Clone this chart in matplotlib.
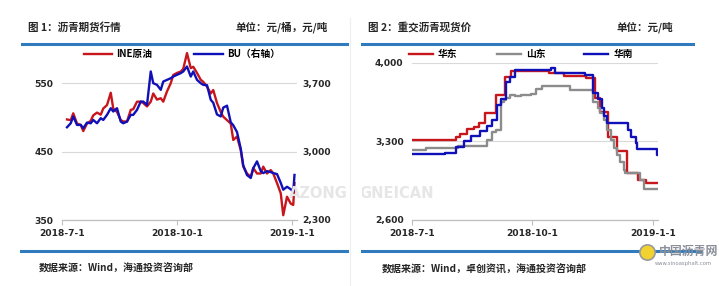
import matplotlib
matplotlib.use('Agg')
import matplotlib.pyplot as plt
from matplotlib.lines import Line2D
from matplotlib.transforms import Bbox
import pandas as pd

plt.rcParams['font.family'] = ['Noto Sans CJK SC', 'DejaVu Sans']

# 图1: 沥青期货行情
fut_dates = ['2018-07-05', '2018-07-08', '2018-07-10', '2018-07-13', '2018-07-16', '2018-07-18',
             '2018-07-21', '2018-07-24', '2018-07-26', '2018-07-29',
             '2018-08-01', '2018-08-03', '2018-08-06', '2018-08-09', '2018-08-11', '2018-08-14',
             '2018-08-17', '2018-08-19', '2018-08-22', '2018-08-25', '2018-08-27', '2018-08-30',
             '2018-09-02', '2018-09-04', '2018-09-07', '2018-09-10', '2018-09-12', '2018-09-15',
             '2018-09-18', '2018-09-20', '2018-09-23', '2018-09-26', '2018-09-28',
             '2018-10-01', '2018-10-04', '2018-10-06', '2018-10-09', '2018-10-12', '2018-10-14',
             '2018-10-17', '2018-10-20', '2018-10-22', '2018-10-25', '2018-10-28', '2018-10-30',
             '2018-11-02', '2018-11-05', '2018-11-07', '2018-11-10', '2018-11-13', '2018-11-15',
             '2018-11-18', '2018-11-21', '2018-11-23', '2018-11-26', '2018-11-29',
             '2018-12-01', '2018-12-04', '2018-12-07', '2018-12-09', '2018-12-12', '2018-12-15',
             '2018-12-17', '2018-12-20', '2018-12-23', '2018-12-25', '2018-12-28', '2018-12-31',
             '2019-01-02', '2019-01-03']
ine = [497, 496, 506, 491, 489, 480, 491, 495, 503, 507,
       504, 513, 518, 536, 513, 508, 496, 494, 494, 511, 512, 523,
       523, 521, 516, 523, 535, 526, 528, 523, 538, 550, 562,
       565, 567, 571, 594, 572, 574, 565, 555, 552, 545, 535, 540,
       521, 508, 501, 496, 491, 467, 472, 452, 428, 418, 413,
       426, 418, 418, 428, 418, 423, 418, 404, 389, 357, 384, 374,
       372, 404]
bu = [3249, 3290, 3359, 3273, 3273, 3239, 3297, 3290, 3324, 3290,
      3342, 3324, 3376, 3444, 3410, 3444, 3307, 3290, 3307, 3376, 3376, 3427,
      3512, 3512, 3478, 3820, 3700, 3683, 3632, 3717, 3734, 3751, 3768,
      3786, 3803, 3820, 3871, 3768, 3820, 3734, 3700, 3683, 3680, 3530, 3500,
      3380, 3360, 3450, 3470, 3300, 3270, 3200, 3030, 2860, 2760, 2730,
      2830, 2900, 2800, 2780, 2800, 2790, 2780, 2770, 2680, 2610, 2640, 2615,
      2590, 2761]

# 图2: 重交沥青现货价 (调价日, 价格)
east_dates = ['2018-07-01', '2018-08-04', '2018-08-07', '2018-08-12', '2018-08-17', '2018-08-21',
              '2018-08-26', '2018-09-03', '2018-09-10', '2018-09-15', '2018-10-14', '2018-10-25',
              '2018-11-11', '2018-11-18', '2018-11-22', '2018-11-28', '2018-12-05', '2018-12-12',
              '2018-12-21', '2018-12-27', '2019-01-05']
east = [3310, 3338, 3368, 3412, 3427, 3466, 3555, 3710, 3873, 3925, 3905, 3884,
        3867, 3683, 3564, 3341, 3215, 3015, 2955, 2931, 2931]

sd_dates = ['2018-07-01', '2018-07-12', '2018-08-05', '2018-08-27', '2018-08-31', '2018-09-03',
            '2018-09-07', '2018-09-09', '2018-09-11', '2018-09-14', '2018-09-18', '2018-09-22',
            '2018-09-26', '2018-09-30', '2018-10-04', '2018-10-08', '2018-10-30', '2018-11-16',
            '2018-11-20', '2018-11-22', '2018-11-25', '2018-11-27', '2018-11-30', '2018-12-02',
            '2018-12-05', '2018-12-07', '2018-12-10', '2018-12-11', '2018-12-22', '2018-12-25',
            '2019-01-05']
shandong = [3223, 3243, 3258, 3309, 3383, 3398, 3650, 3665, 3686, 3710, 3700, 3710,
            3715, 3724, 3768, 3793, 3757, 3653, 3594, 3549, 3490, 3401, 3310, 3238,
            3178, 3120, 3045, 3015, 2955, 2880, 2880]

south_dates = ['2018-07-01', '2018-07-26', '2018-08-04', '2018-08-10', '2018-08-15', '2018-08-22',
               '2018-08-27', '2018-08-31', '2018-09-04', '2018-09-07', '2018-09-11', '2018-09-14',
               '2018-09-18', '2018-10-15', '2018-10-18', '2018-11-10', '2018-11-16', '2018-11-20',
               '2018-11-23', '2018-11-25', '2018-11-27', '2018-12-13', '2018-12-15', '2018-12-19',
               '2018-12-20', '2019-01-04', '2019-01-05']
south = [3185, 3200, 3250, 3300, 3347, 3389, 3436, 3487, 3620, 3680, 3828, 3873,
         3932, 3950, 3905, 3890, 3728, 3680, 3600, 3530, 3460, 3400, 3340, 3282,
         3235, 3180, 3180]

xticks = ['2018-07-01', '2018-10-01', '2019-01-01']
xticklabels = ['2018-7-1', '2018-10-1', '2019-1-1']

RED = '#c8161d'
BLUE = '#1010b8'
GRAY = '#8c8c8c'
HEAD = '#2f7bbd'
TXT = '#262626'

W, H = 719, 286
fig = plt.figure(figsize=(W / 100, H / 100), dpi=100)


def fx(px):
    return px / W


def fy(py):
    return 1 - py / H


def style_axis(ax):
    for s in ['top', 'left', 'right']:
        ax.spines[s].set_visible(False)
    ax.spines['bottom'].set_color('#bfbfbf')
    ax.spines['bottom'].set_linewidth(0.9)
    ax.tick_params(axis='x', length=3.5, width=0.8, color='#bfbfbf', pad=3,
                   labelsize=6.6, labelcolor=TXT)
    ax.tick_params(axis='y', length=0, labelsize=6.6, labelcolor=TXT, pad=6)
    ax.grid(axis='y', color='#d9d9d9', lw=0.8)
    ax.set_axisbelow(True)
    ax.patch.set_alpha(0)
    xt = pd.to_datetime(xticks)
    ax.set_xticks(xt)
    ax.set_xticklabels(xticklabels, fontweight='bold', family='DejaVu Sans')
    ax.set_xlim(pd.Timestamp('2018-07-01'), pd.Timestamp('2019-01-05'))


# watermark pieces (each panel clips its own)
wm1 = fig.text(fx(289), fy(194), 'AZONG', fontsize=10.5, color='#e6e6e6',
               fontweight='bold', family='DejaVu Sans', va='center', zorder=0)
wm2 = fig.text(fx(359), fy(194), 'GNEICAN', fontsize=10.5, color='#e6e6e6',
               fontweight='bold', family='DejaVu Sans', va='center', zorder=0)
wm1.set_clip_box(Bbox([[0, 0], [347, H]]))
wm2.set_clip_box(Bbox([[362, 0], [W, H]]))

# ---- left panel
ax1 = fig.add_axes([fx(62), fy(220), fx(297 - 62), (220 - 49) / H])
style_axis(ax1)
fd = pd.to_datetime(fut_dates)
ax1.plot(fd, ine, color=RED, lw=1.7)
ax1.set_ylim(350, 600)
ax1.set_yticks([350, 450, 550])
ax1.set_yticklabels(['350', '450', '550'], fontweight='bold', family='DejaVu Sans')

ax1r = ax1.twinx()
ax1r.patch.set_alpha(0)
ax1r.plot(fd, bu, color=BLUE, lw=1.7)
ax1r.set_ylim(2300, 4050)
ax1r.set_yticks([2300, 3000, 3700])
ax1r.set_yticklabels(['2,300', '3,000', '3,700'], fontweight='bold', family='DejaVu Sans')
for s in ['top', 'left', 'right', 'bottom']:
    ax1r.spines[s].set_visible(False)
ax1r.tick_params(axis='y', length=0, labelsize=6.6, labelcolor=TXT, pad=4)

fig.legend([Line2D([], [], color=RED, lw=1.7), Line2D([], [], color=BLUE, lw=1.7)],
           ['INE原油', 'BU（右轴）'], loc='center left', bbox_to_anchor=(fx(84), fy(54)),
           ncol=2, frameon=False, handlelength=2.9, handletextpad=0.45,
           columnspacing=4.3, borderpad=0, borderaxespad=0,
           prop={'weight': 'bold', 'size': 7})

# ---- right panel
ax2 = fig.add_axes([fx(412), fy(220), fx(658 - 412), (220 - 62.7) / H])
style_axis(ax2)
ax2.step(pd.to_datetime(east_dates), east, where='post', color=RED, lw=1.7)
ax2.step(pd.to_datetime(sd_dates), shandong, where='post', color=GRAY, lw=1.7)
ax2.step(pd.to_datetime(south_dates), south, where='post', color=BLUE, lw=1.7)
ax2.set_ylim(2600, 4000)
ax2.set_yticks([2600, 3300, 4000])
ax2.set_yticklabels(['2,600', '3,300', '4,000'], fontweight='bold', family='DejaVu Sans')

fig.legend([Line2D([], [], color=RED, lw=1.7), Line2D([], [], color=GRAY, lw=1.7),
            Line2D([], [], color=BLUE, lw=1.7)],
           ['华东', '山东', '华南'], loc='center left', bbox_to_anchor=(fx(409), fy(54)),
           ncol=3, frameon=False, handlelength=2.5, handletextpad=0.5,
           columnspacing=4.0, borderpad=0, borderaxespad=0,
           prop={'weight': 'bold', 'size': 7})

# ---- headers, rules and sources
for x0, x1 in [(22, 347), (362, 693)]:
    fig.add_artist(Line2D([fx(x0), fx(x1)], [fy(43.5), fy(43.5)], color=HEAD, lw=2.2))
for x0, x1 in [(21, 347), (362, 700)]:
    fig.add_artist(Line2D([fx(x0), fx(x1)], [fy(251), fy(251)], color=HEAD, lw=2.2))
fig.add_artist(Line2D([fx(350), fx(350)], [fy(18), fy(286)], color='#eeeeee', lw=0.8))

fig.text(fx(28), fy(27), '图 1：沥青期货行情', fontsize=7.6, fontweight='bold',
         color=TXT, va='center')
fig.text(fx(328), fy(27), '单位：元/桶，元/吨', fontsize=7.6, fontweight='bold',
         color=TXT, va='center', ha='right')
fig.text(fx(368), fy(27), '图 2：重交沥青现货价', fontsize=7.6, fontweight='bold',
         color=TXT, va='center')
fig.text(fx(673), fy(27), '单位：元/吨', fontsize=7.6, fontweight='bold',
         color=TXT, va='center', ha='right')
fig.text(fx(39), fy(269), '数据来源：Wind，海通投资咨询部', fontsize=7.2,
         fontweight='bold', color=TXT, va='center')
fig.text(fx(382), fy(269), '数据来源：Wind，卓创资讯，海通投资咨询部', fontsize=7.2,
         fontweight='bold', color=TXT, va='center')

# site mark
fig.add_artist(Line2D([fx(647)], [fy(252)], marker='o', markersize=11,
                      markerfacecolor='#f2d230', markeredgecolor='#9a9a9a',
                      markeredgewidth=1.2, linestyle='none'))
fig.text(fx(659), fy(251), '中国沥青网', fontsize=8.6, fontweight='bold',
         color='#8a8f9a', va='center')
fig.text(fx(655), fy(263), 'www.sinoasphalt.com', fontsize=3.8,
         color='#8a8f9a', va='center', family='DejaVu Sans')

fig.savefig('out.png', dpi=100)
